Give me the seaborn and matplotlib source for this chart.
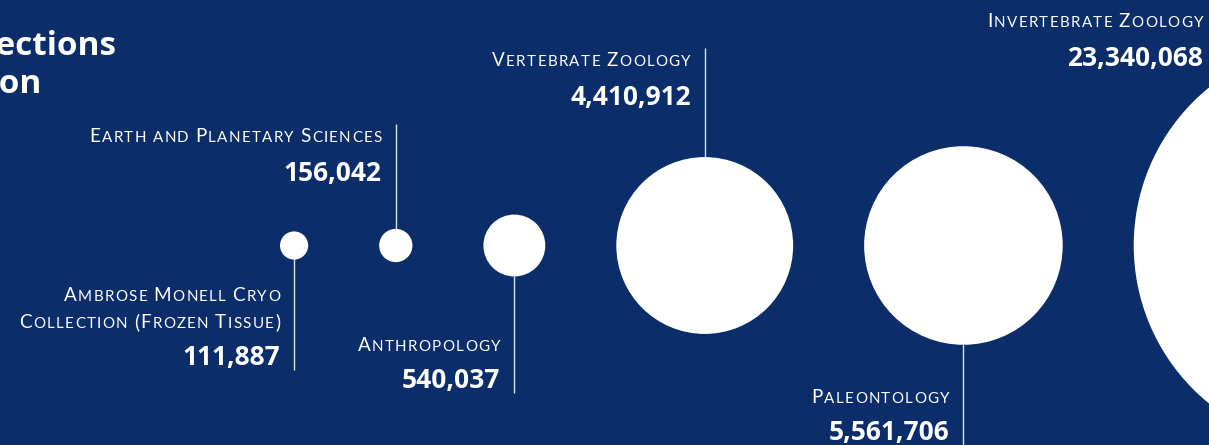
import matplotlib
matplotlib.use("Agg")
import matplotlib.pyplot as plt
import seaborn as sns
import numpy as np
import pandas as pd

# ---------------- data ----------------
divisions = [
    "Ambrose Monell Cryo\nCollection (Frozen Tissue)",
    "Earth and Planetary Sciences",
    "Anthropology",
    "Vertebrate Zoology",
    "Paleontology",
    "Invertebrate Zoology",
]
specimens = [111887, 156042, 540037, 4410912, 5561706, 23340068]
title_lines = ["Collections", "by Division"]

# ---------------- style ----------------
BG = "#0b2e6b"
FG = "white"
W, H = 1209, 445
DPI = 100

sns.set_theme(style="white")
plt.rcParams["font.family"] = ["Lato", "DejaVu Sans"]

fig = plt.figure(figsize=(W / DPI, H / DPI), dpi=DPI, facecolor=BG)
ax = fig.add_axes([0, 0, 1, 1])
ax.set_facecolor(BG)
ax.set_xlim(0, W)
ax.set_ylim(H, 0)
ax.axis("off")
renderer = fig.canvas.get_renderer()

# ---------------- layout (circles packed left-to-right) ----------------
k = 0.0421          # px radius per sqrt(specimen)
gap = 71            # px between circles
cy = 245.5
radii = [k * np.sqrt(v) for v in specimens]
xs = []
left = 280
for i, r in enumerate(radii):
    if i == 0:
        xs.append(left + r)
    else:
        xs.append(xs[-1] + radii[i - 1] + gap + r)

df = pd.DataFrame({"division": divisions, "specimens": specimens,
                   "x": xs, "y": [cy] * len(xs)})

# leader line ends (px): labels alternate below / above
above = [False, True, False, True, False, True]
line_end = [370, 124, 393, 48, 445, 9]

for i, row in df.iterrows():
    ax.plot([row.x, row.x], [cy, line_end[i]], color=FG, lw=1.0,
            alpha=0.85, zorder=1, solid_capstyle="butt")

# circles: marker area proportional to specimen count
vmax = max(specimens)
rmax_pt = k * np.sqrt(vmax) * 72 / DPI
smax = (2 * rmax_pt) ** 2
sns.scatterplot(data=df, x="x", y="y", size="specimens",
                sizes=(0, smax), size_norm=(0, vmax), color=FG,
                linewidth=0, legend=False, ax=ax, zorder=3)
ax.set_xlim(0, W)
ax.set_ylim(H, 0)
ax.axis("off")


# ---------------- small caps helper ----------------
_wcache = {}


def text_width(s, size, **kw):
    key = (s, size)
    if key in _wcache:
        return _wcache[key]
    t1 = ax.text(0, 0, "|" + s + "|", fontsize=size, **kw)
    t2 = ax.text(0, 0, "||", fontsize=size, **kw)
    w = t1.get_window_extent(renderer).width - t2.get_window_extent(renderer).width
    t1.remove()
    t2.remove()
    _wcache[key] = w
    return w


def smallcaps(x_right, y, text, big=13.6, small=10.9, track=1.35, **kw):
    pieces = []
    for ch in text:
        sz = small if (ch.islower() or ch == " ") else big
        pieces.append((ch.upper(), sz))
    widths = [text_width(c, sz, **kw) for c, sz in pieces]
    total = sum(widths) + track * (len(pieces) - 1)
    x = x_right - total
    for (c, sz), w in zip(pieces, widths):
        if c != " ":
            ax.text(x, y, c, fontsize=sz, ha="left", va="baseline",
                    color=FG, **kw)
        x += w + track


NUM_FONT = dict(family=["Open Sans", "DejaVu Sans"], fontweight="bold")
NAME_FONT = dict(family=["Lato", "DejaVu Sans"])

for i, row in df.iterrows():
    xr = min(row.x - 14, W - 6)
    lines = row.division.split("\n")
    if above[i]:
        name_base = line_end[i] + 18
        num_base = name_base + 39
    else:
        num_base = line_end[i] - 5
        name_base = num_base - 37
    for j, ln in enumerate(reversed(lines)):
        smallcaps(xr, name_base - j * 26.6, ln, **NAME_FONT)
    ax.text(xr, num_base, f"{row.specimens:,}", fontsize=19, ha="right",
            va="baseline", color=FG, **NUM_FONT)

# ---------------- title (cropped at left edge, as in the source) ----------------
ax.text(116, 55, title_lines[0], fontsize=24, ha="right", va="baseline",
        color=FG, **NUM_FONT)
ax.text(41, 93, title_lines[1], fontsize=24, ha="right", va="baseline",
        color=FG, **NUM_FONT)

fig.savefig("out.png", dpi=DPI, facecolor=BG)
